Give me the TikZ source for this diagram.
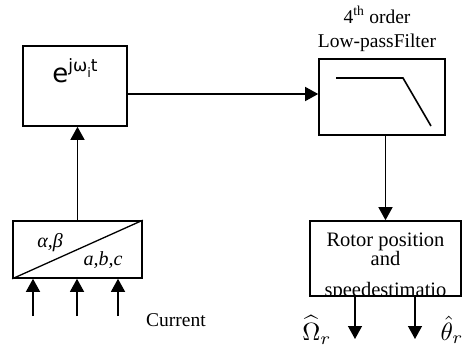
\documentclass[tikz,border=0pt]{standalone}
\usepackage{amsmath,amssymb}
\usepackage{fontspec}
\setmainfont{Liberation Serif}
\newfontfamily\dvsans{DejaVu Sans}
\usetikzlibrary{arrows.meta}

\tikzset{
  blockbox/.style={draw, line width=1.6pt, inner sep=0pt},
  conn/.style={line width=1.3pt},
  arr/.style={conn, -{Triangle[length=13pt, width=14pt]}},
  rotorline/.style={font=\fontsize{20.5}{22}\selectfont, anchor=base, inner sep=0pt}
}

\begin{document}
\begin{tikzpicture}[x=1pt, y=-1pt]
  \useasboundingbox (0,0) rectangle (464,351);
  % Rotating factor block
  \node[blockbox, minimum width=104pt, minimum height=80pt]
    (ebox) at (75,86) {};
  \node[font=\dvsans\fontsize{26}{28}\selectfont, anchor=base]
    (etext) at (75,82) {e\raisebox{11pt}{\fontsize{17}{19}\selectfont
      jω\raisebox{-6pt}{\fontsize{13}{15}\selectfont i}t}};
  % Low-pass filter block
  \node[blockbox, minimum width=126pt, minimum height=76pt]
    (lpf) at (382,97) {};
  \node[font=\fontsize{19.5}{24}\selectfont, align=center]
    (lpflabel) at (377,29) {4\textsuperscript{th} order\\Low-passFilter};
  \draw[line width=1.6pt] (336,78) -- (403,78) -- (431,126);
  % Rotor position and speed estimation block
  \node[blockbox, minimum width=151pt, minimum height=75pt]
    (rotor) at (385.5,258.5) {};
  \begin{scope}
    \clip (rotor.north west) rectangle ([yshift=0.8pt]rotor.south east);
    \node[rotorline] (rot1) at (385.5,246) {Rotor position};
    \node[rotorline] (rot2) at (385.5,265) {and};
    \node[rotorline] (rot3) at (385.5,296) {speedestimatio};
  \end{scope}
  % Clarke transformation block
  \node[blockbox, minimum width=129pt, minimum height=57pt]
    (abc) at (77.5,249.5) {};
  \draw[conn] (abc.south west) -- (abc.north east);
  \node[font=\itshape\fontsize{20}{22}\selectfont, anchor=base]
    (ab) at (50,247) {α,β};
  \node[font=\itshape\fontsize{20}{22}\selectfont, anchor=base]
    (abcl) at (103,265) {a,b,c};
  % Connections
  \draw[arr] (abc.north) -- (abc.north |- ebox.south);
  \draw[arr] (ebox.east |- 0,94) -- (lpf.west |- 0,94);
  \draw[arr] (rotor.north |- lpf.south) -- (rotor.north);
  % Current inputs
  \foreach \x [count=\i] in {33,77,118} {
    \coordinate (in\i) at (\x,316);
    \draw[arr] (in\i) -- (in\i |- abc.south);
  }
  \node[font=\fontsize{19.5}{21}\selectfont] (current) at (176,320) {Current};
  % Outputs
  \coordinate (out1) at (355,339);
  \coordinate (out2) at (415,339);
  \draw[arr] (out1 |- rotor.south) -- (out1);
  \draw[arr] (out2 |- rotor.south) -- (out2);
  \node[inner sep=0pt] (omega) at (317,330)
    {\scalebox{2.5}{$\widehat{\Omega}_r$}};
  \node[inner sep=0pt] (theta) at (452,330)
    {\scalebox{2.5}{$\hat{\theta}_r$}};
\end{tikzpicture}
\end{document}
